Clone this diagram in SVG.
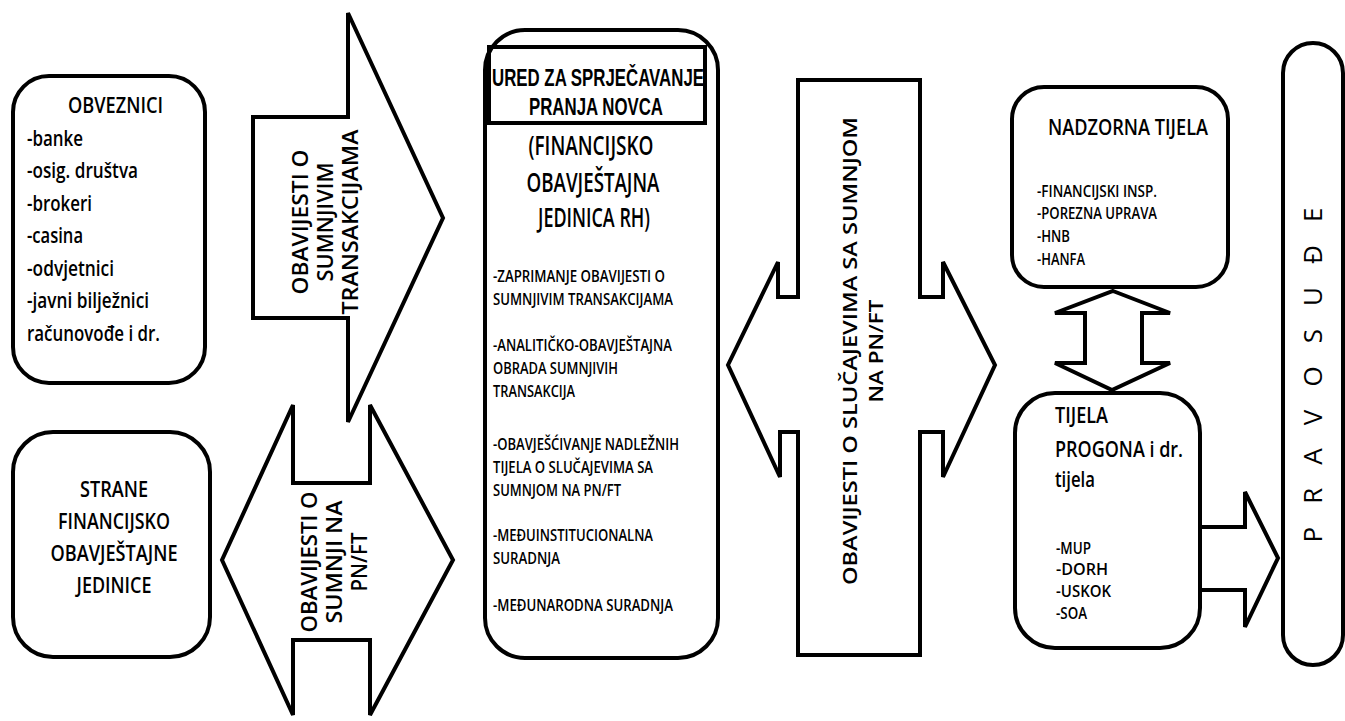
<svg xmlns="http://www.w3.org/2000/svg" width="1345" height="721" viewBox="0 0 1345 721">
<style>
.shape{fill:#fff;stroke:#000;stroke-width:4;stroke-linejoin:miter}
.box{fill:#fff;stroke:#000;stroke-width:4}
text{font-family:"Open Sans","Liberation Sans",sans-serif;fill:#000;font-weight:600}
.lib text{font-family:"Liberation Sans",Arial,sans-serif;font-weight:700;font-size:24px}
.t21{font-size:21px}
.t22{font-size:22px}
.t27{font-size:27px}
.t16{font-size:16px}
.t20{font-size:20px}
.m{text-anchor:middle}
.thin{font-weight:400}
</style>
<rect width="1345" height="721" fill="#fff"/>

<g id="connectors">
  <polygon class="shape" points="253,117 348,117 348,13 443,218 348,422 348,318 253,318"/>
  <polygon class="shape" points="293,483 293,405 222,560 293,715 293,640 370,640 370,715 453,560 370,405 370,483"/>
  <polygon class="shape" points="798,80 920,80 920,297 943,297 943,262 995,365 943,477 943,432 920,432 920,655 798,655 798,432 780,432 780,477 728,365 778,262 778,297 798,297"/>
  <polygon class="shape" points="1113,291 1170,313 1142,313 1142,363 1170,363 1112,390 1055,363 1085,363 1085,313 1055,313"/>
  <polygon class="shape" points="1200,527 1245,527 1245,492 1278,558 1245,627 1245,590 1200,590"/>
  <g class="t22 m">
    <text transform="translate(308,222) rotate(-90)" textLength="145" lengthAdjust="spacingAndGlyphs">OBAVIJESTI O</text>
    <text transform="translate(333,222) rotate(-90)" textLength="119" lengthAdjust="spacingAndGlyphs">SUMNJIVIM</text>
    <text transform="translate(358,222) rotate(-90)" textLength="185" lengthAdjust="spacingAndGlyphs">TRANSAKCIJAMA</text>
    <text transform="translate(317,562) rotate(-90)" textLength="141" lengthAdjust="spacingAndGlyphs">OBAVIJESTI O</text>
    <text transform="translate(342,562) rotate(-90)" textLength="123" lengthAdjust="spacingAndGlyphs">SUMNJI NA</text>
    <text transform="translate(367,562) rotate(-90)" textLength="59" lengthAdjust="spacingAndGlyphs">PN/FT</text>
  </g>
  <g class="t20 m">
    <text transform="translate(857,351) rotate(-90)" textLength="468" lengthAdjust="spacingAndGlyphs">OBAVIJESTI O SLUČAJEVIMA SA SUMNJOM</text>
    <text transform="translate(883,351) rotate(-90)" textLength="103" lengthAdjust="spacingAndGlyphs">NA PN/FT</text>
  </g>
</g>

<g id="obveznici">
  <rect class="box" x="13" y="76" width="192" height="307" rx="36"/>
  <g class="t21">
    <text x="115.5" y="113" class="m" textLength="95" lengthAdjust="spacingAndGlyphs">OBVEZNICI</text>
    <text x="27" y="146" textLength="56" lengthAdjust="spacingAndGlyphs">-banke</text>
    <text x="27" y="178" textLength="111" lengthAdjust="spacingAndGlyphs">-osig. društva</text>
    <text x="27" y="211" textLength="65" lengthAdjust="spacingAndGlyphs">-brokeri</text>
    <text x="27" y="243" textLength="56" lengthAdjust="spacingAndGlyphs">-casina</text>
    <text x="27" y="276" textLength="87" lengthAdjust="spacingAndGlyphs">-odvjetnici</text>
    <text x="27" y="308" textLength="122" lengthAdjust="spacingAndGlyphs">-javni bilježnici</text>
    <text x="27" y="341" textLength="133" lengthAdjust="spacingAndGlyphs">računovođe i dr.</text>
  </g>
</g>

<g id="strane">
  <rect class="box" x="13" y="432" width="197" height="225" rx="40"/>
  <g class="t22 m">
    <text x="114" y="497" textLength="68" lengthAdjust="spacingAndGlyphs">STRANE</text>
    <text x="114" y="529" textLength="112" lengthAdjust="spacingAndGlyphs">FINANCIJSKO</text>
    <text x="114" y="561" textLength="127" lengthAdjust="spacingAndGlyphs">OBAVJEŠTAJNE</text>
    <text x="114" y="593" textLength="75" lengthAdjust="spacingAndGlyphs">JEDINICE</text>
  </g>
</g>

<g id="ured">
  <rect class="box" x="485" y="30" width="233" height="628" rx="40"/>
  <rect x="489" y="47" width="216" height="76" fill="none" stroke="#000" stroke-width="4"/>
  <g class="lib m">
    <text x="598" y="86" textLength="212" lengthAdjust="spacingAndGlyphs">URED ZA SPRJEČAVANJE</text>
    <text x="596" y="115" textLength="134" lengthAdjust="spacingAndGlyphs">PRANJA NOVCA</text>
  </g>
  <g class="t27 m">
    <text x="591" y="155" textLength="125" lengthAdjust="spacingAndGlyphs">(FINANCIJSKO</text>
    <text x="593" y="192" textLength="133" lengthAdjust="spacingAndGlyphs">OBAVJEŠTAJNA</text>
    <text x="594" y="227" textLength="112" lengthAdjust="spacingAndGlyphs">JEDINICA RH)</text>
  </g>
  <g class="t16">
    <text x="493" y="282" textLength="172" lengthAdjust="spacingAndGlyphs">-ZAPRIMANJE OBAVIJESTI O</text>
    <text x="493" y="305" textLength="180" lengthAdjust="spacingAndGlyphs">SUMNJIVIM TRANSAKCIJAMA</text>
    <text x="493" y="351" textLength="179" lengthAdjust="spacingAndGlyphs">-ANALITIČKO-OBAVJEŠTAJNA</text>
    <text x="493" y="374" textLength="125" lengthAdjust="spacingAndGlyphs">OBRADA SUMNJIVIH</text>
    <text x="493" y="397" textLength="82" lengthAdjust="spacingAndGlyphs">TRANSAKCIJA</text>
    <text x="493" y="450" textLength="186" lengthAdjust="spacingAndGlyphs">-OBAVJEŠĆIVANJE NADLEŽNIH</text>
    <text x="493" y="473" textLength="160" lengthAdjust="spacingAndGlyphs">TIJELA O SLUČAJEVIMA SA</text>
    <text x="493" y="496" textLength="128" lengthAdjust="spacingAndGlyphs">SUMNJOM NA PN/FT</text>
    <text x="493" y="541" textLength="160" lengthAdjust="spacingAndGlyphs">-MEĐUINSTITUCIONALNA</text>
    <text x="493" y="564" textLength="67" lengthAdjust="spacingAndGlyphs">SURADNJA</text>
    <text x="493" y="611" textLength="180" lengthAdjust="spacingAndGlyphs">-MEĐUNARODNA SURADNJA</text>
  </g>
</g>

<g id="nadzorna">
  <rect class="box" x="1012" y="87" width="216" height="200" rx="32"/>
  <text x="1128" y="135" class="t22 m" textLength="160" lengthAdjust="spacingAndGlyphs">NADZORNA TIJELA</text>
  <g class="t16">
    <text x="1037" y="197" textLength="120" lengthAdjust="spacingAndGlyphs">-FINANCIJSKI INSP.</text>
    <text x="1037" y="219" textLength="120" lengthAdjust="spacingAndGlyphs">-POREZNA UPRAVA</text>
    <text x="1037" y="242" textLength="33" lengthAdjust="spacingAndGlyphs">-HNB</text>
    <text x="1037" y="265" textLength="48" lengthAdjust="spacingAndGlyphs">-HANFA</text>
  </g>
</g>

<g id="tijela">
  <rect class="box" x="1015" y="393" width="185" height="255" rx="40"/>
  <g class="t22">
    <text x="1055" y="423" textLength="53" lengthAdjust="spacingAndGlyphs">TIJELA</text>
    <text x="1055" y="457" textLength="128" lengthAdjust="spacingAndGlyphs">PROGONA i dr.</text>
    <text x="1055" y="487" textLength="40" lengthAdjust="spacingAndGlyphs">tijela</text>
  </g>
  <g class="t16">
    <text x="1056" y="554" textLength="35" lengthAdjust="spacingAndGlyphs">-MUP</text>
    <text x="1056" y="575" textLength="52" lengthAdjust="spacingAndGlyphs">-DORH</text>
    <text x="1056" y="597" textLength="55" lengthAdjust="spacingAndGlyphs">-USKOK</text>
    <text x="1056" y="619" textLength="31" lengthAdjust="spacingAndGlyphs">-SOA</text>
  </g>
</g>

<g id="pravosudje">
  <rect class="box" x="1283" y="43" width="60" height="622" rx="30"/>
  <text transform="translate(1322,375) rotate(-90)" class="m thin" font-size="26" textLength="335" lengthAdjust="spacing">PRAVOSUĐE</text>
</g>
</svg>
